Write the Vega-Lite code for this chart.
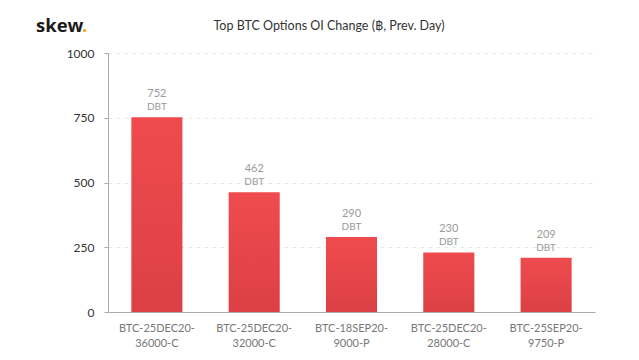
{
  "$schema": "https://vega.github.io/schema/vega-lite/v6.json",
  "width": 487,
  "height": 259,
  "autosize": "none",
  "padding": {"left": 108, "top": 53, "right": 44, "bottom": 48},
  "background": "white",
  "config": {"view": {"stroke": null}, "font": "Lato"},
  "data": {"values": [
    {"instrument": "BTC-25DEC20-36000-C", "oi": 752},
    {"instrument": "BTC-25DEC20-32000-C", "oi": 462},
    {"instrument": "BTC-18SEP20-9000-P", "oi": 290},
    {"instrument": "BTC-25DEC20-28000-C", "oi": 230},
    {"instrument": "BTC-25SEP20-9750-P", "oi": 209}
  ]},
  "encoding": {
    "x": {"field": "instrument", "type": "nominal", "sort": null,
      "scale": {"paddingInner": 0.475, "paddingOuter": 0.24},
      "axis": {"title": null, "labelAngle": 0, "ticks": false, "domainColor": "#aaa",
        "labelExpr": "[slice(datum.value,0,12), slice(datum.value,12)]",
        "labelFont": "Lato", "labelFontSize": 11, "labelColor": "#777", "labelPadding": 10, "labelLineHeight": 15}},
    "y": {"field": "oi", "type": "quantitative",
      "scale": {"domain": [0, 1000]},
      "axis": {"title": null, "values": [0, 250, 500, 750, 1000], "format": "d", "domainColor": "#aaa", "tickColor": "#aaa", "tickSize": 4,
        "gridColor": "#e6e6e6", "gridDash": [4, 4], "labelFontSize": 12, "labelColor": "#333", "labelPadding": 10}}
  },
  "layer": [
    {"mark": {"type": "bar", "color": {"gradient": "linear", "x1": 0, "y1": 0, "x2": 0, "y2": 1,
      "stops": [{"offset": 0, "color": "#ef4b4e"}, {"offset": 1, "color": "#dc4044"}]}}},
    {"mark": {"type": "text", "baseline": "bottom", "dy": -18, "fontSize": 11, "color": "#9a9a9a"},
      "encoding": {"text": {"field": "oi"}}},
    {"mark": {"type": "text", "baseline": "bottom", "dy": -5, "fontSize": 10, "color": "#9a9a9a"},
      "encoding": {"text": {"value": "DBT"}}},
    {"data": {"values": [{"t": "skew"}]},
      "mark": {"type": "text", "align": "left", "baseline": "alphabetic", "fontSize": 18.5, "fontWeight": "bold", "font": "Open Sans", "color": "#1a1a1a"},
      "encoding": {"x": {"value": -72}, "y": {"value": -21}, "text": {"field": "t"}}},
    {"data": {"values": [{"t": "."}]},
      "mark": {"type": "text", "align": "left", "baseline": "alphabetic", "fontSize": 18.5, "fontWeight": "bold", "font": "Open Sans", "color": "#f5a623"},
      "encoding": {"x": {"value": -26}, "y": {"value": -21}, "text": {"field": "t"}}},
    {"data": {"values": [{"t": "Top BTC Options OI Change (฿, Prev. Day)"}]},
      "mark": {"type": "text", "align": "center", "baseline": "alphabetic", "fontSize": 12.5, "color": "#333"},
      "encoding": {"x": {"value": 221}, "y": {"value": -23}, "text": {"field": "t"}}}
  ]
}
